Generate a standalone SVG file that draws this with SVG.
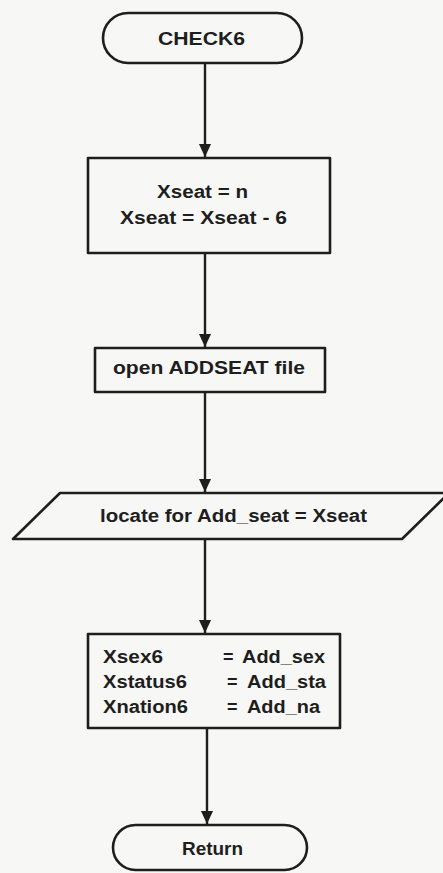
<svg xmlns="http://www.w3.org/2000/svg" width="443" height="873" viewBox="0 0 443 873">
<defs>
<style>
.s{fill:#f7f7f5;stroke:#1e1e1e;stroke-width:2.6;stroke-linejoin:round}
.t{font-family:"Liberation Sans",Arial,sans-serif;font-weight:bold;font-size:18px;fill:#1e1e1e}
.e{stroke:#1e1e1e;stroke-width:2.4;fill:none}
</style>
<marker id="ah" viewBox="0 0 14 13" refX="14" refY="6.5" markerWidth="13" markerHeight="14" markerUnits="userSpaceOnUse" orient="auto">
<path d="M0,0 L14,6.5 L0,13 z" fill="#1e1e1e"/>
</marker>
</defs>
<rect width="443" height="873" fill="#f7f7f5"/>
<g id="connectors">
<line class="e" x1="205" y1="63" x2="205" y2="157" marker-end="url(#ah)"/>
<line class="e" x1="205" y1="253" x2="205" y2="347" marker-end="url(#ah)"/>
<line class="e" x1="205" y1="392" x2="205" y2="492" marker-end="url(#ah)"/>
<line class="e" x1="205" y1="539" x2="205" y2="633" marker-end="url(#ah)"/>
<line class="e" x1="207" y1="728" x2="207" y2="824" marker-end="url(#ah)"/>
</g>
<g id="start">
<rect class="s" x="103" y="13" width="199" height="50" rx="25"/>
<text class="t" x="158" y="45" textLength="87" lengthAdjust="spacingAndGlyphs">CHECK6</text>
</g>
<g id="assign">
<rect class="s" x="88" y="158" width="242" height="95"/>
<text class="t" x="157" y="198" textLength="91" lengthAdjust="spacingAndGlyphs">Xseat = n</text>
<text class="t" x="120" y="224" textLength="167" lengthAdjust="spacingAndGlyphs">Xseat = Xseat - 6</text>
</g>
<g id="open">
<rect class="s" x="95" y="348" width="230" height="44"/>
<text class="t" x="113" y="374" textLength="192" lengthAdjust="spacingAndGlyphs">open ADDSEAT file</text>
</g>
<g id="locate">
<polygon class="s" points="60,493 449,493 402,539 13,539"/>
<text class="t" x="100" y="522" textLength="267" lengthAdjust="spacingAndGlyphs">locate for Add_seat = Xseat</text>
</g>
<g id="fields">
<rect class="s" x="88" y="634" width="252" height="94"/>
<text class="t" x="103" y="663" textLength="60" lengthAdjust="spacingAndGlyphs">Xsex6</text>
<text class="t" x="223" y="663">=</text>
<text class="t" x="242" y="663" textLength="83" lengthAdjust="spacingAndGlyphs">Add_sex</text>
<text class="t" x="103" y="688" textLength="84" lengthAdjust="spacingAndGlyphs">Xstatus6</text>
<text class="t" x="227" y="688">=</text>
<text class="t" x="247" y="688" textLength="79" lengthAdjust="spacingAndGlyphs">Add_sta</text>
<text class="t" x="103" y="713" textLength="85" lengthAdjust="spacingAndGlyphs">Xnation6</text>
<text class="t" x="227" y="713">=</text>
<text class="t" x="247" y="713" textLength="73" lengthAdjust="spacingAndGlyphs">Add_na</text>
</g>
<g id="return">
<rect class="s" x="113" y="825" width="194" height="45" rx="22.5"/>
<text class="t" x="182" y="855" textLength="61" lengthAdjust="spacingAndGlyphs">Return</text>
</g>
</svg>
